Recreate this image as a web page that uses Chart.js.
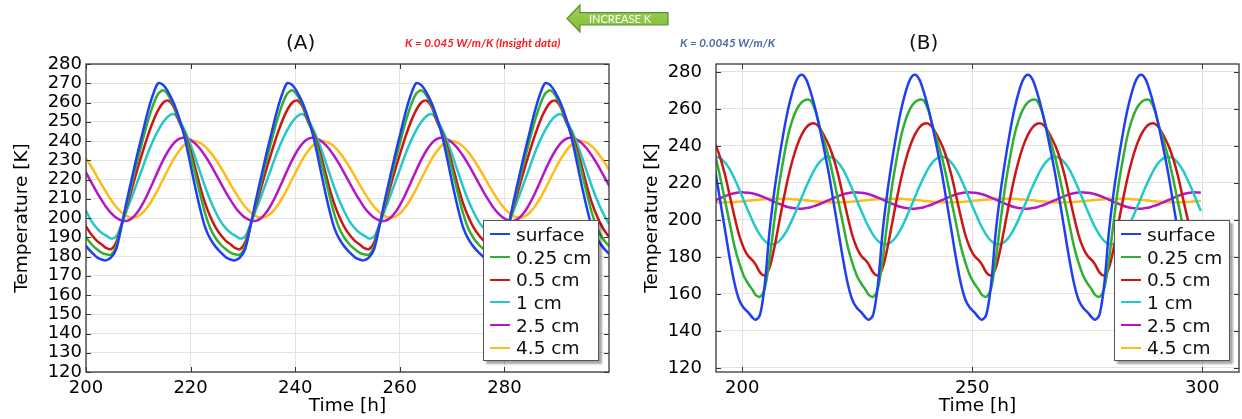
<!DOCTYPE html>
<html>
<head>
<meta charset="utf-8">
<script src="https://cdn.jsdelivr.net/npm/chart.js@4.4.1/dist/chart.umd.min.js"></script>
<style>
  html, body { margin: 0; padding: 0; background: #fff; }
  body { width: 1242px; height: 419px; position: relative; overflow: hidden; font-family: 'DejaVu Sans', sans-serif; }
  .panel { position: absolute; top: 0; height: 419px; }
  .panel canvas { position: absolute; left: 0; top: 0; }
  .tag { position: absolute; font-size: 20px; line-height: 20px; color: #111; }
  .note { position: absolute; font-family: Lato, 'Open Sans', sans-serif; font-weight: bold; font-style: italic; font-size: 11.6px; line-height: 12px; white-space: nowrap; }
  .legend { position: absolute; box-sizing: border-box; width: 116px; height: 141px; border: 1px solid #555; background: #fff; box-shadow: 3px 3px 2px rgba(0,0,0,0.35); padding-top: 2px; }
  .legend .row { height: 22.7px; display: flex; align-items: center; font-size: 18.5px; color: #111; white-space: nowrap; }
  .legend .swatch { width: 20px; height: 2px; margin: 0 6px 0 6px; flex: none; }
</style>
</head>
<body>

<div class="panel" id="panel-a" style="left:0;width:620px;">
  <canvas id="chart-a" width="620" height="419"></canvas>
</div>
<div class="panel" id="panel-b" style="left:620px;width:622px;">
  <canvas id="chart-b" width="622" height="419"></canvas>
</div>

<div class="tag" style="left:286px;top:32px;">(A)</div>
<div class="tag" style="left:909px;top:32px;">(B)</div>
<div class="note" style="left:405px;top:37px;color:#ff1a1a;">K = 0.045 W/m/K (Insight data)</div>
<div class="note" style="left:680px;top:37px;color:#4a6aa8;">K = 0.0045 W/m/K</div>
<svg style="position:absolute;left:565px;top:3px;" width="106" height="32">
  <defs>
    <linearGradient id="arrowFill" x1="0" y1="0" x2="0" y2="1">
      <stop offset="0" stop-color="#9fd25a"/>
      <stop offset="1" stop-color="#80bb3a"/>
    </linearGradient>
  </defs>
  <polygon points="2,15.5 15,2 15,9.7 103,9.7 103,22 15,22 15,29" fill="url(#arrowFill)" stroke="#5f8f2f" stroke-width="1.2"/>
  <text x="55" y="19.5" text-anchor="middle" fill="#fff" font-family="Lato, 'Open Sans', sans-serif" font-size="11">INCREASE K</text>
</svg>

<script>
// ---------- datos ----------
const seriesNames = ['surface', '0.25 cm', '0.5 cm', '1 cm', '2.5 cm', '4.5 cm'];
const seriesColors = ['#1f3ff2', '#30b030', '#cc1515', '#22c8cc', '#b518c2', '#ffbb18'];

// (A) K = 0.045 W/m/K  -- tiempos leídos ciclo a ciclo (periodo ~24.66 h)
const timesA = [199.14, 200.14, 201.14, 202.14, 203.14,
  203.8, 204.8, 205.8, 206.8, 207.8, 208.8, 209.8, 210.8, 211.8, 212.8, 213.8, 214.8, 215.8, 216.8, 217.8, 218.8, 219.8, 220.8, 221.8, 222.8, 223.8, 224.8, 225.8, 226.8, 227.8,
  228.46, 229.46, 230.46, 231.46, 232.46, 233.46, 234.46, 235.46, 236.46, 237.46, 238.46, 239.46, 240.46, 241.46, 242.46, 243.46, 244.46, 245.46, 246.46, 247.46, 248.46, 249.46, 250.46, 251.46, 252.46,
  253.12, 254.12, 255.12, 256.12, 257.12, 258.12, 259.12, 260.12, 261.12, 262.12, 263.12, 264.12, 265.12, 266.12, 267.12, 268.12, 269.12, 270.12, 271.12, 272.12, 273.12, 274.12, 275.12, 276.12, 277.12,
  277.78, 278.78, 279.78, 280.78, 281.78, 282.78, 283.78, 284.78, 285.78, 286.78, 287.78, 288.78, 289.78, 290.78, 291.78, 292.78, 293.78, 294.78, 295.78, 296.78, 297.78, 298.78, 299.78, 300.78];

const surfaceA = [189, 185, 182, 179.5, 178.3,
  178, 179.5, 184, 196, 209, 221, 233, 244, 255, 264, 270, 269, 265, 259.5, 252, 242.5, 230, 217, 205, 195, 189, 185, 182, 179.5, 178.3,
  178, 179.5, 184, 196, 209, 221, 233, 244, 255, 264, 270, 269, 265, 259.5, 252, 242.5, 230, 217, 205, 195, 189, 185, 182, 179.5, 178.3,
  178, 179.5, 184, 196, 209, 221, 233, 244, 255, 264, 270, 269, 265, 259.5, 252, 242.5, 230, 217, 205, 195, 189, 185, 182, 179.5, 178.3,
  178, 179.5, 184, 196, 209, 221, 233, 244, 255, 264, 270, 269, 265, 259.5, 252, 242.5, 230, 217, 205, 195, 189, 185, 182, 179.5];
const d025A = [194.4, 189.5, 186.1, 183.6, 181.7,
  181.2, 181, 185.5, 196, 207, 218.5, 229.5, 240, 250, 258.5, 264.5, 266.3, 263.5, 258.4, 251, 243.5, 234.4, 223.8, 212.6, 202.2, 194.4, 189.5, 186.1, 183.6, 181.7,
  181.2, 181, 185.5, 196, 207, 218.5, 229.5, 240, 250, 258.5, 264.5, 266.3, 263.5, 258.4, 251, 243.5, 234.4, 223.8, 212.6, 202.2, 194.4, 189.5, 186.1, 183.6, 181.7,
  181.2, 181, 185.5, 196, 207, 218.5, 229.5, 240, 250, 258.5, 264.5, 266.3, 263.5, 258.4, 251, 243.5, 234.4, 223.8, 212.6, 202.2, 194.4, 189.5, 186.1, 183.6, 181.7,
  181.2, 181, 185.5, 196, 207, 218.5, 229.5, 240, 250, 258.5, 264.5, 266.3, 263.5, 258.4, 251, 243.5, 234.4, 223.8, 212.6, 202.2, 194.4, 189.5, 186.1, 183.6];
const d05A = [200.5, 195, 191, 188, 186,
  184.5, 183.8, 187.5, 196.5, 206, 215.5, 225, 234, 242.5, 250, 256, 260, 261, 257.5, 250, 244.5, 236.5, 227, 216.5, 207.5, 200.5, 195, 191, 188, 186,
  184.5, 183.8, 187.5, 196.5, 206, 215.5, 225, 234, 242.5, 250, 256, 260, 261, 257.5, 250, 244.5, 236.5, 227, 216.5, 207.5, 200.5, 195, 191, 188, 186,
  184.5, 183.8, 187.5, 196.5, 206, 215.5, 225, 234, 242.5, 250, 256, 260, 261, 257.5, 250, 244.5, 236.5, 227, 216.5, 207.5, 200.5, 195, 191, 188, 186,
  184.5, 183.8, 187.5, 196.5, 206, 215.5, 225, 234, 242.5, 250, 256, 260, 261, 257.5, 250, 244.5, 236.5, 227, 216.5, 207.5, 200.5, 195, 191, 188];
const d1A = [209, 203, 198, 194.5, 192,
  191, 189.3, 190.5, 196.8, 204, 211, 218.5, 226, 233.5, 240, 245.5, 250, 253, 254, 251, 246, 239.5, 232, 224, 216, 209, 203, 198, 194.5, 192,
  191, 189.3, 190.5, 196.8, 204, 211, 218.5, 226, 233.5, 240, 245.5, 250, 253, 254, 251, 246, 239.5, 232, 224, 216, 209, 203, 198, 194.5, 192,
  191, 189.3, 190.5, 196.8, 204, 211, 218.5, 226, 233.5, 240, 245.5, 250, 253, 254, 251, 246, 239.5, 232, 224, 216, 209, 203, 198, 194.5, 192,
  191, 189.3, 190.5, 196.8, 204, 211, 218.5, 226, 233.5, 240, 245.5, 250, 253, 254, 251, 246, 239.5, 232, 224, 216, 209, 203, 198, 194.5];
const d25A = [227.8, 222.9, 218.0, 213.1, 208.6,
  205.9, 202.5, 200.1, 198.7, 198.5, 199.9, 202.8, 207.2, 212.5, 218.5, 224.6, 230.3, 235.2, 238.9, 241.1, 241.7, 240.9, 238.9, 236.0, 232.2, 227.8, 222.9, 218.0, 213.1, 208.6,
  205.9, 202.5, 200.1, 198.7, 198.5, 199.9, 202.8, 207.2, 212.5, 218.5, 224.6, 230.3, 235.2, 238.9, 241.1, 241.7, 240.9, 238.9, 236.0, 232.2, 227.8, 222.9, 218.0, 213.1, 208.6,
  205.9, 202.5, 200.1, 198.7, 198.5, 199.9, 202.8, 207.2, 212.5, 218.5, 224.6, 230.3, 235.2, 238.9, 241.1, 241.7, 240.9, 238.9, 236.0, 232.2, 227.8, 222.9, 218.0, 213.1, 208.6,
  205.9, 202.5, 200.1, 198.7, 198.5, 199.9, 202.8, 207.2, 212.5, 218.5, 224.6, 230.3, 235.2, 238.9, 241.1, 241.7, 240.9, 238.9, 236.0, 232.2, 227.8, 222.9, 218.0, 213.1];
const d45A = [234.1, 230.4, 226.1, 221.4, 216.7,
  213.7, 209.4, 205.7, 202.9, 201.0, 200.2, 200.7, 202.6, 205.8, 210.0, 215.0, 220.4, 225.7, 230.7, 234.8, 237.9, 239.6, 240.0, 239.0, 237.1, 234.1, 230.4, 226.1, 221.4, 216.7,
  213.7, 209.4, 205.7, 202.9, 201.0, 200.2, 200.7, 202.6, 205.8, 210.0, 215.0, 220.4, 225.7, 230.7, 234.8, 237.9, 239.6, 240.0, 239.0, 237.1, 234.1, 230.4, 226.1, 221.4, 216.7,
  213.7, 209.4, 205.7, 202.9, 201.0, 200.2, 200.7, 202.6, 205.8, 210.0, 215.0, 220.4, 225.7, 230.7, 234.8, 237.9, 239.6, 240.0, 239.0, 237.1, 234.1, 230.4, 226.1, 221.4, 216.7,
  213.7, 209.4, 205.7, 202.9, 201.0, 200.2, 200.7, 202.6, 205.8, 210.0, 215.0, 220.4, 225.7, 230.7, 234.8, 237.9, 239.6, 240.0, 239.0, 237.1, 234.1, 230.4, 226.1, 221.4];

const xTicksA = [200, 220, 240, 260, 280];
const yTicksA = [120, 130, 140, 150, 160, 170, 180, 190, 200, 210, 220, 230, 240, 250, 260, 270, 280];

// (B) K = 0.0045 W/m/K  -- periodo ~24.6 h
const timesB = [193.3, 194.3, 195.3, 196.3, 197.3, 198.3, 199.3, 200.3, 201.3, 202.3,
  202.9, 203.9, 204.9, 205.9, 206.9, 207.9, 208.9, 209.9, 210.9, 211.9, 212.9, 213.9, 214.9, 215.9, 216.9, 217.9, 218.9, 219.9, 220.9, 221.9, 222.9, 223.9, 224.9, 225.9, 226.9,
  227.5, 228.5, 229.5, 230.5, 231.5, 232.5, 233.5, 234.5, 235.5, 236.5, 237.5, 238.5, 239.5, 240.5, 241.5, 242.5, 243.5, 244.5, 245.5, 246.5, 247.5, 248.5, 249.5, 250.5, 251.5,
  252.1, 253.1, 254.1, 255.1, 256.1, 257.1, 258.1, 259.1, 260.1, 261.1, 262.1, 263.1, 264.1, 265.1, 266.1, 267.1, 268.1, 269.1, 270.1, 271.1, 272.1, 273.1, 274.1, 275.1, 276.1,
  276.7, 277.7, 278.7, 279.7, 280.7, 281.7, 282.7, 283.7, 284.7, 285.7, 286.7, 287.7, 288.7, 289.7, 290.7, 291.7, 292.7, 293.7, 294.7, 295.7, 296.7, 297.7, 298.7, 299.7];

const surfaceB = [237, 224, 209, 194, 179, 166, 157, 152.5, 150, 147,
  146, 149, 165, 193, 214, 231, 246, 259, 269, 276, 278.5, 276, 269, 260, 249, 237, 224, 209, 194, 179, 166, 157, 152.5, 150, 147,
  146, 149, 165, 193, 214, 231, 246, 259, 269, 276, 278.5, 276, 269, 260, 249, 237, 224, 209, 194, 179, 166, 157, 152.5, 150, 147,
  146, 149, 165, 193, 214, 231, 246, 259, 269, 276, 278.5, 276, 269, 260, 249, 237, 224, 209, 194, 179, 166, 157, 152.5, 150, 147,
  146, 149, 165, 193, 214, 231, 246, 259, 269, 276, 278.5, 276, 269, 260, 249, 237, 224, 209, 194, 179, 166, 157, 152.5, 150];
const d025B = [242, 233, 222, 210, 198, 186, 177, 170, 165.5, 162,
  159.5, 158.5, 163, 178, 198, 217, 232, 245, 254, 260, 263.5, 265, 264.5, 259, 250, 242, 233, 222, 210, 198, 186, 177, 170, 165.5, 162,
  159.5, 158.5, 163, 178, 198, 217, 232, 245, 254, 260, 263.5, 265, 264.5, 259, 250, 242, 233, 222, 210, 198, 186, 177, 170, 165.5, 162,
  159.5, 158.5, 163, 178, 198, 217, 232, 245, 254, 260, 263.5, 265, 264.5, 259, 250, 242, 233, 222, 210, 198, 186, 177, 170, 165.5, 162,
  159.5, 158.5, 163, 178, 198, 217, 232, 245, 254, 260, 263.5, 265, 264.5, 259, 250, 242, 233, 222, 210, 198, 186, 177, 170, 165.5];
const d05B = [245, 240, 233, 224, 213, 202, 192, 185, 180.5, 178,
  176, 171.5, 170, 174, 184, 197, 210, 222, 232, 240, 246, 250, 252, 252, 249.5, 245, 240, 233, 224, 213, 202, 192, 185, 180.5, 178,
  176, 171.5, 170, 174, 184, 197, 210, 222, 232, 240, 246, 250, 252, 252, 249.5, 245, 240, 233, 224, 213, 202, 192, 185, 180.5, 178,
  176, 171.5, 170, 174, 184, 197, 210, 222, 232, 240, 246, 250, 252, 252, 249.5, 245, 240, 233, 224, 213, 202, 192, 185, 180.5, 178,
  176, 171.5, 170, 174, 184, 197, 210, 222, 232, 240, 246, 250, 252, 252, 249.5, 245, 240, 233, 224, 213, 202, 192, 185, 180.5];
const d1B = [233.6, 234.2, 233.3, 230.9, 227.3, 222.4, 216.8, 210.8, 204.8, 199.2,
  196.1, 191.8, 188.7, 187.1, 186.9, 188.3, 191.1, 195.2, 200.3, 206.0, 212.0, 217.9, 223.3, 228.0, 231.5, 233.6, 234.2, 233.3, 230.9, 227.3, 222.4, 216.8, 210.8, 204.8, 199.2,
  196.1, 191.8, 188.7, 187.1, 186.9, 188.3, 191.1, 195.2, 200.3, 206.0, 212.0, 217.9, 223.3, 228.0, 231.5, 233.6, 234.2, 233.3, 230.9, 227.3, 222.4, 216.8, 210.8, 204.8, 199.2,
  196.1, 191.8, 188.7, 187.1, 186.9, 188.3, 191.1, 195.2, 200.3, 206.0, 212.0, 217.9, 223.3, 228.0, 231.5, 233.6, 234.2, 233.3, 230.9, 227.3, 222.4, 216.8, 210.8, 204.8, 199.2,
  196.1, 191.8, 188.7, 187.1, 186.9, 188.3, 191.1, 195.2, 200.3, 206.0, 212.0, 217.9, 223.3, 228.0, 231.5, 233.6, 234.2, 233.3, 230.9, 227.3, 222.4, 216.8, 210.8, 204.8];
const d25B = [209.7, 210.8, 211.9, 212.9, 213.8, 214.4, 214.8, 214.9, 214.7, 214.3,
  213.9, 213.1, 212.1, 211.0, 209.9, 208.8, 207.8, 207.0, 206.5, 206.2, 206.1, 206.4, 206.9, 207.7, 208.6, 209.7, 210.8, 211.9, 212.9, 213.8, 214.4, 214.8, 214.9, 214.7, 214.3,
  213.9, 213.1, 212.1, 211.0, 209.9, 208.8, 207.8, 207.0, 206.5, 206.2, 206.1, 206.4, 206.9, 207.7, 208.6, 209.7, 210.8, 211.9, 212.9, 213.8, 214.4, 214.8, 214.9, 214.7, 214.3,
  213.9, 213.1, 212.1, 211.0, 209.9, 208.8, 207.8, 207.0, 206.5, 206.2, 206.1, 206.4, 206.9, 207.7, 208.6, 209.7, 210.8, 211.9, 212.9, 213.8, 214.4, 214.8, 214.9, 214.7, 214.3,
  213.9, 213.1, 212.1, 211.0, 209.9, 208.8, 207.8, 207.0, 206.5, 206.2, 206.1, 206.4, 206.9, 207.7, 208.6, 209.7, 210.8, 211.9, 212.9, 213.8, 214.4, 214.8, 214.9, 214.7];
const d45B = [209.7, 209.6, 209.5, 209.5, 209.6, 209.7, 209.9, 210.1, 210.4, 210.6,
  210.8, 211.0, 211.2, 211.4, 211.5, 211.5, 211.5, 211.4, 211.2, 211.0, 210.8, 210.6, 210.3, 210.1, 209.9, 209.7, 209.6, 209.5, 209.5, 209.6, 209.7, 209.9, 210.1, 210.4, 210.6,
  210.8, 211.0, 211.2, 211.4, 211.5, 211.5, 211.5, 211.4, 211.2, 211.0, 210.8, 210.6, 210.3, 210.1, 209.9, 209.7, 209.6, 209.5, 209.5, 209.6, 209.7, 209.9, 210.1, 210.4, 210.6,
  210.8, 211.0, 211.2, 211.4, 211.5, 211.5, 211.5, 211.4, 211.2, 211.0, 210.8, 210.6, 210.3, 210.1, 209.9, 209.7, 209.6, 209.5, 209.5, 209.6, 209.7, 209.9, 210.1, 210.4, 210.6,
  210.8, 211.0, 211.2, 211.4, 211.5, 211.5, 211.5, 211.4, 211.2, 211.0, 210.8, 210.6, 210.3, 210.1, 209.9, 209.7, 209.6, 209.5, 209.5, 209.6, 209.7, 209.9, 210.1, 210.4];

const xTicksB = [200, 250, 300];
const yTicksB = [120, 140, 160, 180, 200, 220, 240, 260, 280];

// ---------- dibujo ----------
Chart.defaults.font.family = "'DejaVu Sans', sans-serif";
Chart.defaults.color = '#000';

// marco completo + marcas de escala hacia dentro (estilo COMSOL)
const frameTicks = {
  id: 'frameTicks',
  afterDatasetsDraw(chart) {
    const { ctx, chartArea: a, scales: { x, y } } = chart;
    ctx.save();
    ctx.strokeStyle = '#333';
    ctx.lineWidth = 1;
    ctx.beginPath();
    x.ticks.forEach(t => {
      const px = Math.round(x.getPixelForValue(t.value)) + 0.5;
      ctx.moveTo(px, a.bottom); ctx.lineTo(px, a.bottom - 5);
      ctx.moveTo(px, a.top); ctx.lineTo(px, a.top + 5);
    });
    y.ticks.forEach(t => {
      const py = Math.round(y.getPixelForValue(t.value)) + 0.5;
      ctx.moveTo(a.left, py); ctx.lineTo(a.left + 5, py);
      ctx.moveTo(a.right, py); ctx.lineTo(a.right - 5, py);
    });
    ctx.stroke();
    ctx.lineWidth = 1.3;
    ctx.strokeStyle = '#3a3a3a';
    ctx.strokeRect(a.left, a.top, a.right - a.left, a.bottom - a.top);
    ctx.restore();
  }
};

function drawPanel(canvasId, times, series, cfg) {
  const ctx = document.getElementById(canvasId).getContext('2d');
  const datasets = series.map((values, i) => ({
    label: seriesNames[i],
    data: times.map((t, k) => ({ x: t, y: values[k] })),
    borderColor: seriesColors[i],
    borderWidth: 2.5,
    pointRadius: 0,
    tension: 0.3,
    fill: false
  }));

  return new Chart(ctx, {
    type: 'line',
    data: { datasets },
    options: {
      responsive: false,
      animation: false,
      layout: { padding: { left: 0, top: 64, right: cfg.padRight, bottom: 0 } },
      plugins: { legend: { display: false }, tooltip: { enabled: false } },
      scales: {
        x: {
          type: 'linear',
          min: cfg.xMin,
          max: cfg.xMax,
          afterBuildTicks: s => { s.ticks = cfg.xTicks.map(v => ({ value: v })); },
          afterFit: s => { s.height = 47; },
          grid: { color: '#e2e2e2', lineWidth: 1, drawTicks: false },
          border: { display: false },
          ticks: { font: { size: 18 }, padding: 6, maxRotation: 0, autoSkip: false },
          title: { display: true, text: 'Time [h]', font: { size: 18.5 }, padding: { top: 0, bottom: 2 } }
        },
        y: {
          min: cfg.yMin,
          max: cfg.yMax,
          afterBuildTicks: s => { s.ticks = cfg.yTicks.map(v => ({ value: v })); },
          afterFit: s => { s.width = cfg.yWidth; },
          grid: { color: '#e2e2e2', lineWidth: 1, drawTicks: false },
          border: { display: false },
          ticks: { font: { size: 18 }, padding: cfg.yPad, autoSkip: false },
          title: { display: true, text: 'Temperature [K]', font: { size: 18.5 }, padding: { top: cfg.yTitlePad, bottom: 0 } }
        }
      }
    },
    plugins: [frameTicks]
  });
}

// leyenda HTML tipo recuadro con sombra
function addLegend(panelId, left) {
  const box = document.createElement('div');
  box.className = 'legend';
  box.style.left = left + 'px';
  box.style.top = '220px';
  box.innerHTML = seriesNames.map((name, i) =>
    `<div class="row"><span class="swatch" style="background:${seriesColors[i]}"></span>${name}</div>`).join('');
  document.getElementById(panelId).appendChild(box);
}

drawPanel('chart-a', timesA, [surfaceA, d025A, d05A, d1A, d25A, d45A], {
  xMin: 200, xMax: 300, xTicks: xTicksA,
  yMin: 120, yMax: 280, yTicks: yTicksA,
  yWidth: 86, yPad: 4, yTitlePad: 11, padRight: 11
});
drawPanel('chart-b', timesB, [surfaceB, d025B, d05B, d1B, d25B, d45B], {
  xMin: 194.3, xMax: 308, xTicks: xTicksB,
  yMin: 117.8, yMax: 284.3, yTicks: yTicksB,
  yWidth: 96, yPad: 14, yTitlePad: 21, padRight: 3
});
addLegend('panel-a', 483);
addLegend('panel-b', 494);
</script>
</body>
</html>
